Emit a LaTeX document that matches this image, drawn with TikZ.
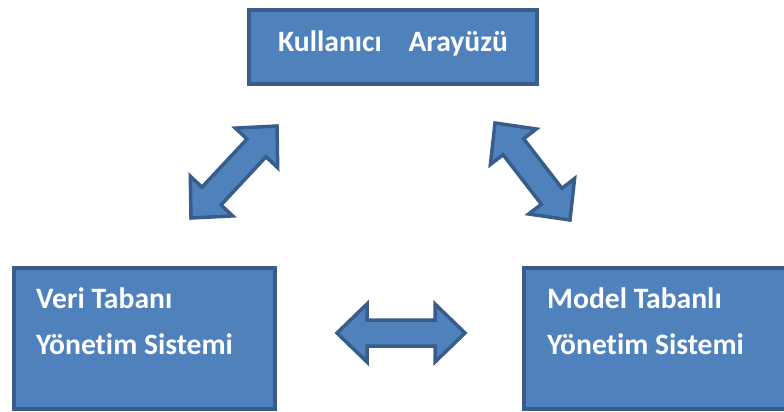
\documentclass[tikz,border=0pt]{standalone}
\usepackage{fontspec}
\setmainfont{Carlito}[Ligatures=NoCommon]
\usetikzlibrary{calc}
\definecolor{boxfill}{HTML}{4F81BD}
\definecolor{boxline}{HTML}{385D8A}
\tikzset{
  box/.style={draw=boxline, fill=boxfill, line width=3.5pt, rectangle, inner sep=0pt},
  lbl/.style={text=white, font=\fontsize{29.6}{35}\selectfont\bfseries, inner sep=0pt},
  barrow/.style={draw=boxline, fill=boxfill, line width=3.5pt, line join=miter},
}
\newcommand{\dblarr}[2]{%
  \draw[barrow] (#1)
    -- ($(#1)!30pt!(#2)!29pt!90:(#2)$)
    -- ($(#1)!30pt!(#2)!13pt!90:(#2)$)
    -- ($(#2)!30pt!(#1)!13pt!-90:(#1)$)
    -- ($(#2)!30pt!(#1)!29pt!-90:(#1)$)
    -- (#2)
    -- ($(#2)!30pt!(#1)!29pt!90:(#1)$)
    -- ($(#2)!30pt!(#1)!13pt!90:(#1)$)
    -- ($(#1)!30pt!(#2)!13pt!-90:(#2)$)
    -- ($(#1)!30pt!(#2)!29pt!-90:(#2)$)
    -- cycle;}
\begin{document}
\begin{tikzpicture}[x=1pt,y=-1pt]
  \useasboundingbox (0,0) rectangle (784,412);
  \clip (0,0) rectangle (784,412);
  % boxes
  \node[box, minimum width=288pt, minimum height=74pt] (ui) at (393,47) {};
  \node[box, minimum width=261pt, minimum height=141pt] (vt) at (144.5,338.5) {};
  \node[box, minimum width=276pt, minimum height=141pt] (mt) at (662,338.5) {};
  % labels
  \node[lbl, anchor=base] (uit) at (393,52) {Kullanıcı\hspace{20pt} Arayüzü};
  \node[lbl, anchor=base west] (vt1) at (36,308) {Veri Tabanı};
  \node[lbl, anchor=base west] (vt2) at (36,354) {Yönetim Sistemi};
  \node[lbl, anchor=base west] (mt1) at (547,308) {Model Tabanlı};
  \node[lbl, anchor=base west] (mt2) at (547,354) {Yönetim Sistemi};
  % arrow end points
  \coordinate (la) at (191,218);
  \coordinate (lb) at (277,126);
  \coordinate (ra) at (495,123);
  \coordinate (rb) at (570,220);
  \coordinate (ha) at (337,333);
  \coordinate (hb) at (465,333);
  \dblarr{la}{lb}
  \dblarr{ra}{rb}
  \dblarr{ha}{hb}
\end{tikzpicture}
\end{document}
